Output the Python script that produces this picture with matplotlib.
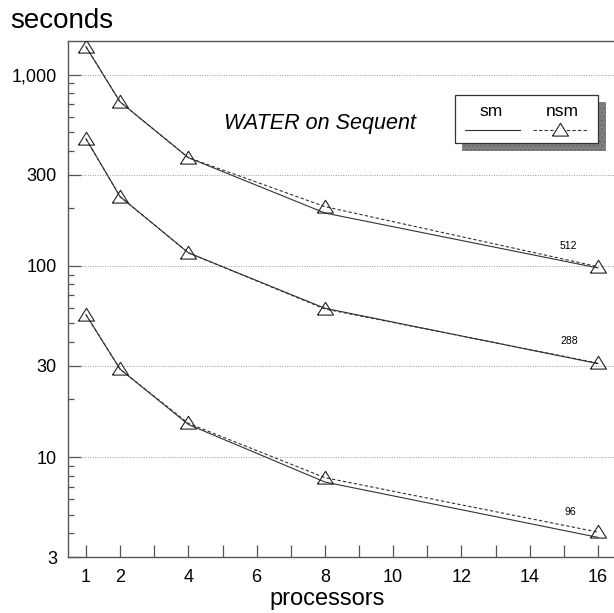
import matplotlib
matplotlib.use('Agg')
import matplotlib.pyplot as plt
from matplotlib.lines import Line2D
from matplotlib.patches import Rectangle
from matplotlib.ticker import FixedLocator, FixedFormatter, NullFormatter

plt.rcParams['font.family'] = ['Liberation Sans', 'DejaVu Sans']

# data (seconds vs processors, log scale)
processors = [1, 2, 4, 8, 16]
sm_512 = [1400, 720, 368, 189, 97.5]
nsm_512 = [1400, 720, 368, 204, 99]
sm_288 = [462, 230, 117, 60, 30.8]
nsm_288 = [462, 230, 117, 59.5, 31]
sm_96 = [55.5, 28.8, 14.8, 7.4, 3.8]
nsm_96 = [55.5, 28.8, 15.0, 7.8, 4.05]
sizes = ['512', '288', '96']
size_label_pos = [(15.12, 127), (15.15, 40.5), (15.2, 5.15)]

y_major = [3, 10, 30, 100, 300, 1000]
y_major_labels = ['3', '10', '30', '100', '300', '1,000']
y_minor = [4, 5, 6, 7, 8, 9, 20, 40, 50, 60, 70, 80, 90,
           200, 400, 500, 600, 700, 800, 900]
x_ticks = list(range(1, 17))
x_labels = ['1', '2', '', '4', '', '6', '', '8', '', '10', '', '12', '', '14', '', '16']

LINE = '#333333'
SPINE = '#555555'
TRI = [(-1, -0.7), (1, -0.7), (0, 0.9), (-1, -0.7)]

fig = plt.figure(figsize=(6.14, 6.13), dpi=100, facecolor='white')
ax = fig.add_axes([68 / 614, 1 - 557 / 613, 1 - 68 / 614, (557 - 41) / 613])

for sm, nsm in [(sm_512, nsm_512), (sm_288, nsm_288), (sm_96, nsm_96)]:
    ax.plot(processors, sm, color=LINE, lw=0.8, zorder=3)
    ax.plot(processors, nsm, color=LINE, lw=0.8, ls=(0, (3, 2)), zorder=3,
            marker=TRI, ms=11.5, mfc='none', mec='#222222', mew=0.8)

for lab, (xp, yp) in zip(sizes, size_label_pos):
    ax.text(xp, yp, lab, fontsize=7.5, ha='center', va='center')

ax.set_yscale('log')
ax.set_xlim(0.473, 16.47)
ax.set_ylim(3, 1500)

ax.yaxis.set_major_locator(FixedLocator(y_major))
ax.yaxis.set_major_formatter(FixedFormatter(y_major_labels))
ax.yaxis.set_minor_locator(FixedLocator(y_minor))
ax.yaxis.set_minor_formatter(NullFormatter())
ax.set_xticks(x_ticks)
ax.set_xticklabels(x_labels)

ax.tick_params(axis='y', which='major', direction='in', length=9, width=0.9,
               color=SPINE, labelsize=13, pad=8)
ax.tick_params(axis='y', which='minor', direction='in', length=4.5, width=0.9,
               color=SPINE)
ax.tick_params(axis='x', which='major', direction='in', length=8.5, width=0.9,
               color=SPINE, labelsize=13, pad=9)

for yv in y_major[1:]:
    ax.axhline(yv, color='#999999', lw=0.7, ls=(0, (1, 1.5)), zorder=1)

ax.spines['right'].set_visible(False)
for s in ['left', 'top', 'bottom']:
    ax.spines[s].set_color(SPINE)
    ax.spines[s].set_linewidth(1.0)

fig.text(10 / 614, 1 - 21 / 613, 'seconds', fontsize=20, ha='left', va='center')
fig.text(327 / 614, 1 - 599 / 613, 'processors', fontsize=17, ha='center', va='center')
ax.text(0.4615, 0.841, 'WATER on Sequent', transform=ax.transAxes,
        fontsize=15.5, style='italic', ha='center', va='center')

# legend box with shadow
W, H = 614, 613
def fx(px):
    return px / W
def fy(py):
    return 1 - py / H

shadow = Rectangle((fx(462), fy(150)), fx(598) - fx(455), fy(95) - fy(143),
                   transform=fig.transFigure, facecolor='#808080',
                   edgecolor='#6a6a6a', hatch='....', lw=0.5, zorder=5)
box = Rectangle((fx(455), fy(143)), fx(598) - fx(455), fy(95) - fy(143),
                transform=fig.transFigure, facecolor='white',
                edgecolor='#333333', lw=0.9, zorder=6)
fig.patches.extend([shadow, box])
fig.text(fx(491), fy(112), 'sm', fontsize=12.5, ha='center', va='center', zorder=7)
fig.text(fx(562), fy(112), 'nsm', fontsize=12.5, ha='center', va='center', zorder=7)
fig.lines.append(Line2D([fx(465), fx(520)], [fy(130), fy(130)],
                        transform=fig.transFigure, color=LINE, lw=0.8, zorder=7))
fig.lines.append(Line2D([fx(533), fx(587)], [fy(130), fy(130)],
                        transform=fig.transFigure, color=LINE, lw=0.8,
                        ls=(0, (3, 2)), zorder=7))
fig.lines.append(Line2D([fx(560)], [fy(130)], transform=fig.transFigure,
                        marker=TRI, ms=11.5, mfc='white', mec='#222222',
                        mew=0.8, ls='none', zorder=8))

fig.savefig('out.png', dpi=100, facecolor='white')
